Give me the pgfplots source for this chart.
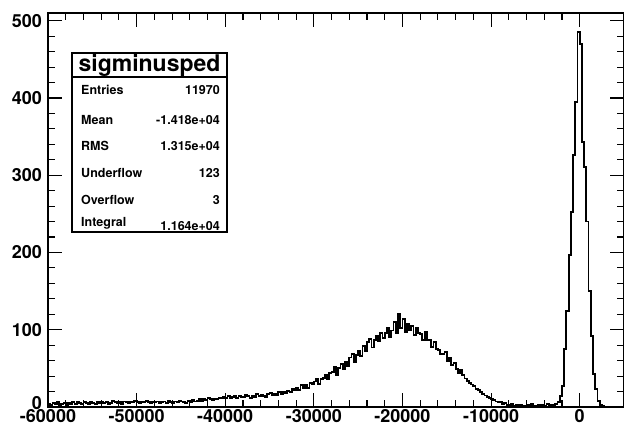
\documentclass[border=0pt]{standalone}
\usepackage{fontspec}
\setmainfont{TeX Gyre Heros}
\usepackage{pgfplots}
\pgfplotsset{compat=1.18}
\begin{document}
\begin{tikzpicture}[x=1pt,y=1pt]
\useasboundingbox (0,0) rectangle (624,428);
\begin{axis}[at={(48pt,21pt)}, anchor=south west, scale only axis,
  width=576pt, height=394pt,
  xmin=-60000, xmax=5000, ymin=0, ymax=510,
  xtick={-60000,-50000,-40000,-30000,-20000,-10000,0},
  ytick={0,100,200,300,400,500},
  yticklabels={\raisebox{-3pt}[0pt][0pt]{0},100,200,300,400,500},
  minor x tick num=4, minor y tick num=4,
  tick align=inside, tick pos=both,
  major tick length=14pt, minor tick length=7pt,
  axis line style={line width=1.5pt},
  every tick/.style={black, line width=1.1pt},
  scaled ticks=false,
  /pgf/number format/assume math mode=true,
  /pgf/number format/1000 sep={},
  /pgf/number format/fixed,
  xticklabel style={font=\fontsize{18}{18}\selectfont\bfseries, inner sep=0pt, yshift=-2.5pt},
  yticklabel style={font=\fontsize{18}{18}\selectfont\bfseries, inner sep=0pt, xshift=-6pt},
]
\addplot[const plot mark left, black, line width=1.8pt, no marks] coordinates {
(-60000,4) (-59750,3) (-59500,5) (-59250,4)
(-59000,6) (-58750,3) (-58500,4) (-58250,5)
(-58000,3) (-57750,5) (-57500,4) (-57250,6)
(-57000,4) (-56750,7) (-56500,5) (-56250,4)
(-56000,6) (-55750,5) (-55500,4) (-55250,7)
(-55000,5) (-54750,4) (-54500,6) (-54250,5)
(-54000,7) (-53750,5) (-53500,6) (-53250,4)
(-53000,5) (-52750,8) (-52500,6) (-52250,5)
(-52000,6) (-51750,4) (-51500,7) (-51250,6)
(-51000,5) (-50750,7) (-50500,6) (-50250,8)
(-50000,6) (-49750,5) (-49500,7) (-49250,6)
(-49000,8) (-48750,6) (-48500,5) (-48250,7)
(-48000,6) (-47750,7) (-47500,5) (-47250,6)
(-47000,7) (-46750,5) (-46500,8) (-46250,6)
(-46000,5) (-45750,7) (-45500,6) (-45250,8)
(-45000,7) (-44750,6) (-44500,5) (-44250,8)
(-44000,6) (-43750,9) (-43500,7) (-43250,8)
(-43000,10) (-42750,8) (-42500,11) (-42250,9)
(-42000,12) (-41750,10) (-41500,9) (-41250,11)
(-41000,10) (-40750,12) (-40500,11) (-40250,13)
(-40000,12) (-39750,14) (-39500,11) (-39250,13)
(-39000,15) (-38750,12) (-38500,14) (-38250,13)
(-38000,13) (-37750,16) (-37500,14) (-37250,12)
(-37000,15) (-36750,13) (-36500,17) (-36250,14)
(-36000,16) (-35750,14) (-35500,13) (-35250,17)
(-35000,18) (-34750,15) (-34500,17) (-34250,16)
(-34000,19) (-33750,17) (-33500,20) (-33250,18)
(-33000,21) (-32750,19) (-32500,23) (-32250,22)
(-32000,25) (-31750,22) (-31500,28) (-31250,24)
(-31000,28) (-30750,25) (-30500,31) (-30250,29)
(-30000,33) (-29750,37) (-29500,30) (-29250,36)
(-29000,38) (-28750,42) (-28500,36) (-28250,44)
(-28000,45) (-27750,52) (-27500,41) (-27250,50)
(-27000,56) (-26750,49) (-26500,58) (-26250,53)
(-26000,64) (-25750,69) (-25500,58) (-25250,67)
(-25000,73) (-24750,66) (-24500,79) (-24250,72)
(-24000,84) (-23750,88) (-23500,77) (-23250,87)
(-23000,92) (-22750,85) (-22500,96) (-22250,89)
(-22000,96) (-21750,102) (-21500,91) (-21250,99)
(-21000,110) (-20750,96) (-20500,120) (-20250,102)
(-20000,114) (-19750,97) (-19500,108) (-19250,99)
(-19000,105) (-18750,93) (-18500,102) (-18250,96)
(-18000,95) (-17750,87) (-17500,97) (-17250,86)
(-17000,87) (-16750,78) (-16500,84) (-16250,75)
(-16000,74) (-15750,68) (-15500,69) (-15250,71)
(-15000,60) (-14750,63) (-14500,54) (-14250,57)
(-14000,49) (-13750,44) (-13500,48) (-13250,41)
(-13000,37) (-12750,34) (-12500,31) (-12250,29)
(-12000,27) (-11750,23) (-11500,22) (-11250,19)
(-11000,17) (-10750,15) (-10500,13) (-10250,12)
(-10000,10) (-9750,9) (-9500,7) (-9250,6)
(-9000,6) (-8750,4) (-8500,5) (-8250,3)
(-8000,3) (-7750,4) (-7500,2) (-7250,3)
(-7000,2) (-6750,3) (-6500,1) (-6250,2)
(-6000,3) (-5750,2) (-5500,4) (-5250,2)
(-5000,1) (-4750,3) (-4500,2) (-4250,3)
(-4000,2) (-3750,4) (-3500,3) (-3250,2)
(-3000,3) (-2750,4) (-2500,6) (-2250,14)
(-2000,27) (-1750,75) (-1500,124) (-1250,197)
(-1000,252) (-750,326) (-500,395) (-250,485)
(0,470) (250,343) (500,311) (750,240)
(1000,150) (1250,92) (1500,43) (1750,23)
(2000,8) (2250,3) (2500,1) (2750,0)
(3000,0) (3250,0) (3500,0) (3750,0)
(4000,0) (4250,0) (4500,0) (4750,0)
(5000,0)
};
\end{axis}
\draw[line width=1.3pt, fill=white] (72,196) rectangle (227,375);
\draw[line width=1.3pt] (72,351) -- (227,351);
\node[font=\fontsize{23}{23}\selectfont\bfseries, inner sep=0pt] at (149.5,363) {sigminusped};
\begin{scope}[every node/.style={font=\fontsize{12.5}{12.5}\selectfont\bfseries, inner sep=0pt}]
\node[anchor=west] at (81,338) {Entries};
\node[anchor=east] at (220,338) {11970};
\node[anchor=west] at (81,308) {Mean};
\node[anchor=east] at (220,308) {-1.418e+04};
\node[anchor=west] at (81,282) {RMS};
\node[anchor=east] at (220,282) {1.315e+04};
\node[anchor=west] at (81,255) {Underflow};
\node[anchor=east] at (220,255) {123};
\node[anchor=west] at (81,228) {Overflow};
\node[anchor=east] at (220,228) {3};
\node[anchor=west] at (81,205) {Integral};
\node[anchor=east] at (220,202) {1.164e+04};
\end{scope}
\end{tikzpicture}
\end{document}
